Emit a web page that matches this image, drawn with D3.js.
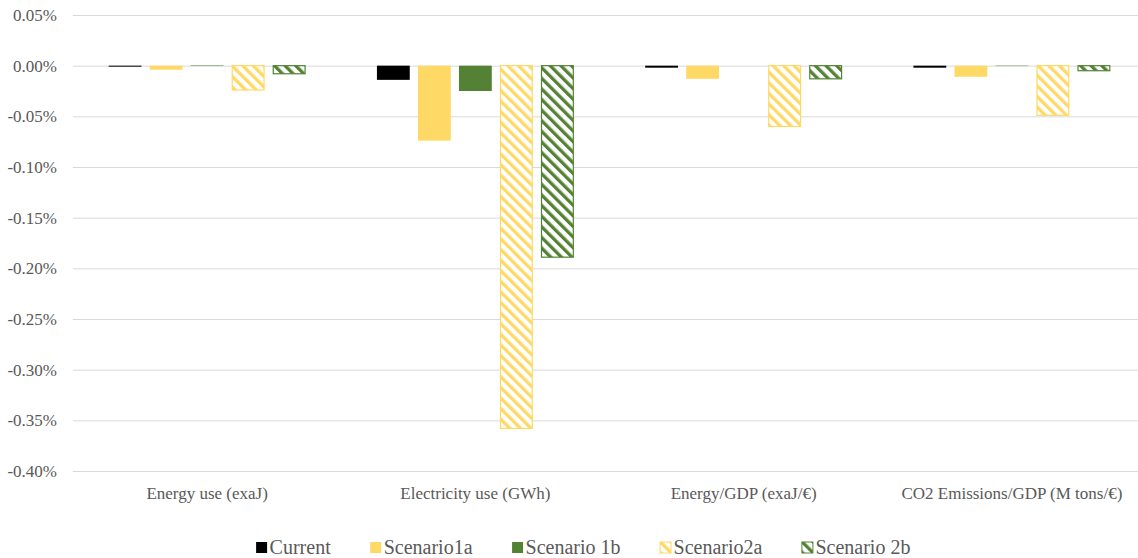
<!DOCTYPE html>
<html>
<head>
<meta charset="utf-8">
<script src="https://cdn.jsdelivr.net/npm/d3@7"></script>
<style>
  body { margin: 0; background: #fff; }
  svg { display: block; }
</style>
</head>
<body>
<div id="chart"><svg></svg></div>
<script>
const categories = [
  "Energy use (exaJ)",
  "Electricity use (GWh)",
  "Energy/GDP (exaJ/€)",
  "CO2 Emissions/GDP (M tons/€)"
];
const seriesNames = ["Current", "Scenario1a", "Scenario 1b", "Scenario2a", "Scenario 2b"];
// values in percent
const current = [-0.001, -0.014, -0.002, -0.002];
const scenario1a = [-0.004, -0.074, -0.013, -0.011];
const scenario1b = [0.0005, -0.025, 0, -0.0004];
const scenario2a = [-0.024, -0.358, -0.060, -0.049];
const scenario2b = [-0.008, -0.189, -0.013, -0.005];
const yTicks = [0.05, 0, -0.05, -0.1, -0.15, -0.2, -0.25, -0.3, -0.35, -0.4];

document.addEventListener("DOMContentLoaded", function () {
  const W = 1138, H = 558;
  // plot area runs a little past the right edge (cropped like the original)
  const margin = { top: 15, right: -8, bottom: 87, left: 73 },
    width = W - margin.left - margin.right,
    height = H - margin.top - margin.bottom;
  const serif = "Liberation Serif, Times New Roman, DejaVu Serif, serif";

  const root = d3
    .select("#chart svg")
    .attr("width", W)
    .attr("height", H)
    .style("font-family", serif);

  const yellow = "#ffd966", green = "#548235";

  // striped patterns (wide downward diagonal)
  const defs = root.append("defs");
  function stripes(id, color) {
    const p = defs
      .append("pattern")
      .attr("id", id)
      .attr("patternUnits", "userSpaceOnUse")
      .attr("width", 7.5)
      .attr("height", 7.5)
      .attr("patternTransform", "rotate(-45)");
    p.append("rect").attr("width", 7.5).attr("height", 7.5).attr("fill", "#fff");
    p.append("rect").attr("width", 3.3).attr("height", 7.5).attr("fill", color);
  }
  stripes("stripeYellow", yellow);
  stripes("stripeGreen", green);

  const series = [
    { name: seriesNames[0], values: current, fill: "#000000", stroke: "none" },
    { name: seriesNames[1], values: scenario1a, fill: yellow, stroke: "none" },
    { name: seriesNames[2], values: scenario1b, fill: green, stroke: "none" },
    { name: seriesNames[3], values: scenario2a, fill: "url(#stripeYellow)", stroke: yellow },
    { name: seriesNames[4], values: scenario2b, fill: "url(#stripeGreen)", stroke: green }
  ];

  const svg = root
    .append("g")
    .attr("transform", `translate(${margin.left},${margin.top})`);

  const y = d3.scaleLinear().domain([-0.4, 0.05]).range([height, 0]);
  const x0 = d3.scaleBand().domain(categories).range([0, width]).padding(0);
  const x1 = d3
    .scaleBand()
    .domain(seriesNames)
    .range([0, x0.bandwidth()])
    .paddingInner(0.2)
    .paddingOuter(0.87);

  // gridlines + tick labels
  const yAxis = svg
    .append("g")
    .attr("class", "axis axis--y")
    .call(
      d3
        .axisLeft(y)
        .tickValues(yTicks)
        .tickSize(-width)
        .tickPadding(16)
        .tickFormat((d) => d3.format(".2f")(d).replace("−", "-") + "%")
    );
  yAxis.attr("font-family", null).attr("font-size", null);
  yAxis.select(".domain").remove();
  yAxis.selectAll("line").attr("stroke", "#d9d9d9").attr("stroke-width", 1);
  yAxis
    .selectAll("text")
    .attr("fill", "#595959")
    .style("font-size", "17px");

  // bars
  const groups = svg
    .selectAll(".series")
    .data(series)
    .enter()
    .append("g")
    .attr("class", "series");

  groups
    .selectAll("rect")
    .data((s) => s.values.map((v, i) => ({ s, v, cat: categories[i] })))
    .enter()
    .append("rect")
    .attr("x", (d) => x0(d.cat) + x1(d.s.name) + (d.s.stroke !== "none" ? 0.5 : 0))
    .attr("y", (d) => y(Math.max(0, d.v)))
    .attr("width", (d) => x1.bandwidth() - (d.s.stroke !== "none" ? 1 : 0))
    .attr("height", (d) => Math.abs(y(d.v) - y(0)))
    .attr("fill", (d) => d.s.fill)
    .attr("stroke", (d) => d.s.stroke)
    .attr("stroke-width", 1.2);

  // category labels
  svg
    .append("g")
    .selectAll("text")
    .data(categories)
    .enter()
    .append("text")
    .attr("x", (d) => x0(d) + x0.bandwidth() / 2)
    .attr("y", height + 28)
    .attr("text-anchor", "middle")
    .attr("fill", "#595959")
    .style("font-size", "17px")
    .text((d) => d);

  // legend
  const legend = root.append("g").attr("class", "legend");
  const gap = 39;
  let lx = 0;
  series.forEach((s) => {
    const item = legend.append("g").attr("transform", `translate(${lx},0)`);
    item
      .append("rect")
      .attr("x", 0.5)
      .attr("y", -12)
      .attr("width", 11)
      .attr("height", 11)
      .attr("fill", s.fill)
      .attr("stroke", s.stroke)
      .attr("stroke-width", 1);
    const t = item
      .append("text")
      .attr("x", 14)
      .attr("y", 0)
      .attr("fill", "#595959")
      .style("font-size", "20px")
      .text(s.name);
    lx += 14 + t.node().getComputedTextLength() + gap;
  });
  const legendW = lx - gap;
  legend.attr("transform", `translate(${583 - legendW / 2},${554})`);
});
</script>
</body>
</html>
